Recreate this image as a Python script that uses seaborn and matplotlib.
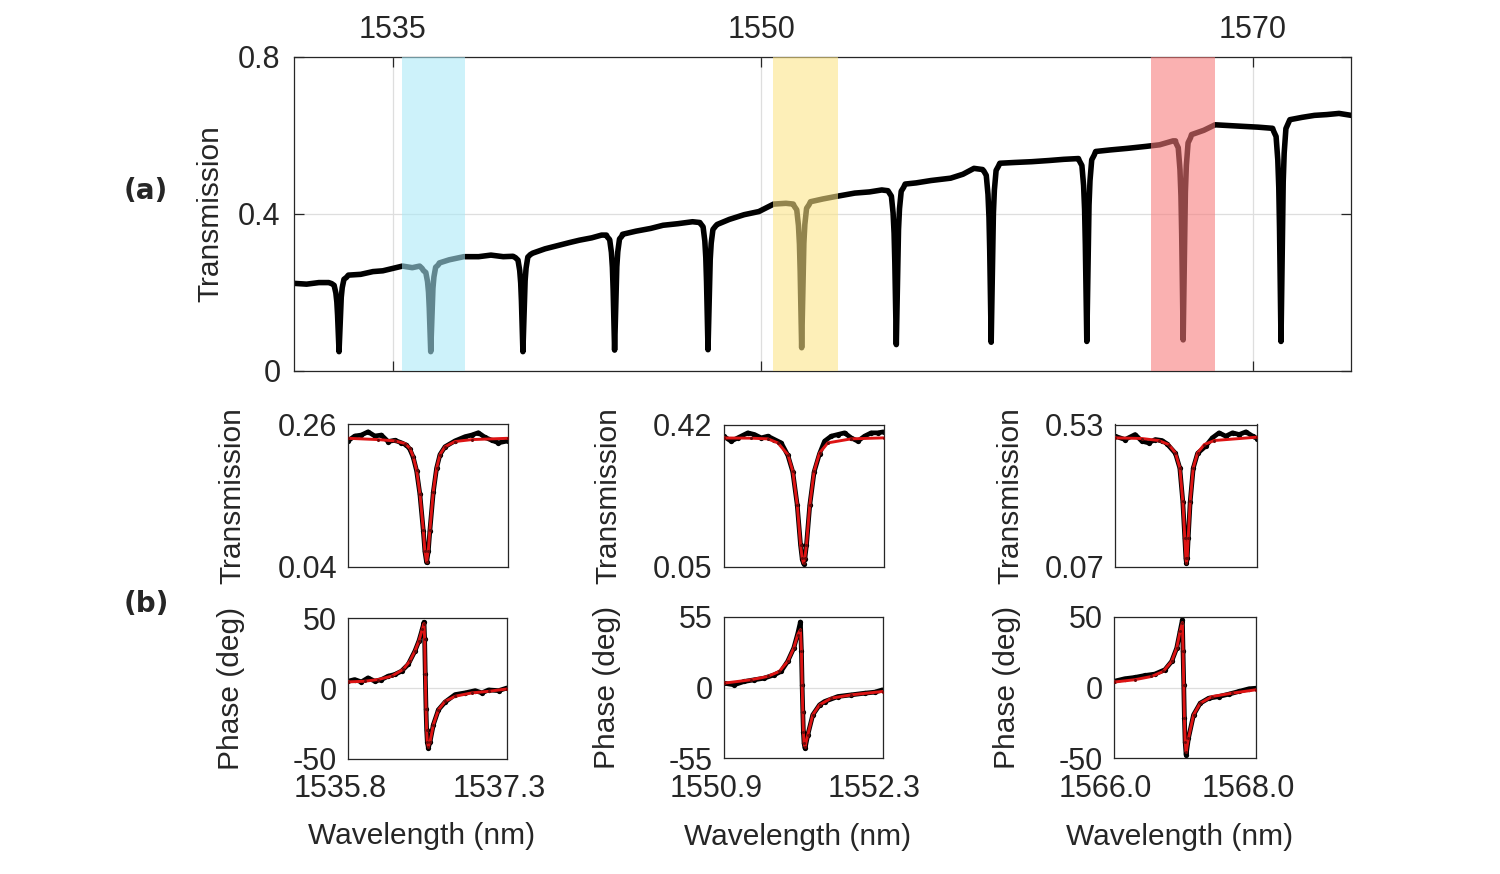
import numpy as np
import pandas as pd
import matplotlib
matplotlib.use("Agg")
import matplotlib.pyplot as plt
import matplotlib.transforms as mtransforms
import seaborn as sns

# ---------------- data: panel (a) broad transmission spectrum ----------------
base_wl = [1531.0, 1531.5, 1532.0, 1532.4,
           1533.2, 1533.7, 1534.2, 1534.6, 1535.0, 1535.4, 1535.8, 1536.1, 1536.2,
           1536.9, 1537.3, 1537.9, 1538.5, 1539.0, 1539.5, 1539.9,
           1540.7, 1541.2, 1541.7, 1542.2, 1542.6, 1543.1, 1543.5, 1543.7,
           1544.35, 1544.9, 1545.5, 1546.0, 1546.6, 1547.2, 1547.5,
           1548.2, 1548.7, 1549.3, 1549.9, 1550.5, 1551.0, 1551.3,
           1552.0, 1552.5, 1553.0, 1553.8, 1554.4, 1554.9, 1555.15,
           1555.85, 1556.3, 1556.9, 1557.7, 1558.2, 1558.65, 1559.0,
           1559.7, 1560.3, 1561.0, 1561.7, 1562.3, 1562.9,
           1563.6, 1564.2, 1564.9, 1565.65, 1566.2, 1566.75, 1566.85,
           1567.5, 1568.0, 1568.46, 1569.0, 1569.6, 1570.2, 1570.64, 1570.8,
           1571.5, 1572.0, 1572.5, 1573.0, 1573.5, 1574.0]
base_T = [0.222, 0.220, 0.224, 0.224,
          0.243, 0.245, 0.252, 0.254, 0.260, 0.266, 0.262, 0.266, 0.260,
          0.274, 0.282, 0.290, 0.290, 0.294, 0.290, 0.291,
          0.299, 0.310, 0.318, 0.326, 0.332, 0.338, 0.345, 0.345,
          0.347, 0.355, 0.362, 0.370, 0.374, 0.379, 0.377,
          0.372, 0.385, 0.397, 0.405, 0.424, 0.426, 0.424,
          0.430, 0.437, 0.443, 0.452, 0.455, 0.460, 0.458,
          0.475, 0.478, 0.484, 0.490, 0.500, 0.515, 0.512,
          0.528, 0.530, 0.532, 0.535, 0.538, 0.540,
          0.558, 0.562, 0.566, 0.571, 0.575, 0.585, 0.585,
          0.601, 0.612, 0.626, 0.624, 0.622, 0.620, 0.618, 0.617,
          0.639, 0.645, 0.650, 0.652, 0.655, 0.650]

dip_wl = [1532.82, 1536.55, 1540.30, 1544.03, 1547.83, 1551.64,
          1555.49, 1559.35, 1563.24, 1567.16, 1571.14]
dip_left = [0.224, 0.258, 0.291, 0.345, 0.379, 0.424, 0.460, 0.515, 0.541, 0.588, 0.618]
dip_right = [0.240, 0.272, 0.299, 0.347, 0.372, 0.428, 0.473, 0.528, 0.556, 0.601, 0.639]
dip_min = [0.048, 0.048, 0.048, 0.052, 0.053, 0.058, 0.066, 0.072, 0.074, 0.078, 0.074]

# resonance line profile: offset (nm) and fraction of dip depth
prof_off = [-0.30, -0.20, -0.13, -0.09, -0.06, -0.03, 0.0, 0.03, 0.06, 0.09, 0.13, 0.20, 0.30]
prof_frac = [0.015, 0.04, 0.15, 0.28, 0.47, 0.75, 1.0, 0.75, 0.47, 0.28, 0.15, 0.04, 0.015]

# highlighted bands
band_lo = [1535.38, 1550.48, 1565.84]
band_hi = [1537.95, 1553.12, 1568.46]
band_colors = ["#a9e9f7", "#fde586", "#f77a7a"]

# ---------------- data: panel (b) zoomed resonances ----------------
p1_fit_wl = [1535.800, 1536.083, 1536.240, 1536.335, 1536.382, 1536.413, 1536.445, 1536.476, 1536.508, 1536.523,
             1536.539, 1536.555, 1536.570, 1536.602, 1536.633, 1536.665, 1536.712, 1536.806, 1536.964, 1537.300]
p1_fit_T = [0.238, 0.236, 0.234, 0.230, 0.2225, 0.210, 0.189, 0.153, 0.097, 0.065,
            0.048, 0.065, 0.097, 0.156, 0.192, 0.213, 0.225, 0.233, 0.236, 0.238]
p1_dat_wl = [1535.800, 1535.863, 1535.926, 1535.989, 1536.052, 1536.114, 1536.177, 1536.240, 1536.303, 1536.350,
             1536.382, 1536.413, 1536.445, 1536.476, 1536.508, 1536.523, 1536.539, 1536.555, 1536.570, 1536.602,
             1536.633, 1536.665, 1536.712, 1536.806, 1536.901, 1536.964, 1537.026, 1537.089, 1537.152, 1537.215, 1537.300]
p1_dat_T = [0.234, 0.2415, 0.243, 0.248, 0.2415, 0.243, 0.233, 0.235, 0.231, 0.2276,
            0.221, 0.209, 0.188, 0.152, 0.096, 0.064, 0.047, 0.064, 0.096, 0.155,
            0.192, 0.213, 0.225, 0.234, 0.2405, 0.243, 0.2466, 0.2394, 0.235, 0.231, 0.234]
p1_fit_pwl = [1535.800, 1535.958, 1536.084, 1536.211, 1536.321, 1536.384, 1536.432, 1536.469, 1536.501, 1536.517,
              1536.523, 1536.529, 1536.536, 1536.542, 1536.548, 1536.558, 1536.574, 1536.605, 1536.653, 1536.716,
              1536.811, 1536.968, 1537.126, 1537.300]
p1_fit_ph = [4.5, 5.0, 6.2, 8.6, 13.4, 19.4, 26.6, 33.7, 42.1, 46.0,
             35.0, 10.0, -15.0, -30.0, -38.0, -41.6, -38.0, -26.0, -15.3, -9.3,
             -5.7, -3.3, -2.2, -0.5]
p1_dat_pwl = [1535.800, 1535.863, 1535.926, 1535.989, 1536.053, 1536.116, 1536.179, 1536.242, 1536.305, 1536.368,
              1536.432, 1536.469, 1536.501, 1536.517, 1536.523, 1536.529, 1536.536, 1536.542, 1536.548, 1536.558,
              1536.574, 1536.605, 1536.653, 1536.716, 1536.811, 1536.905, 1537.000, 1537.063, 1537.126, 1537.221, 1537.300]
p1_dat_ph = [5.0, 6.2, 4.5, 7.4, 5.0, 6.2, 8.6, 9.8, 12.2, 17.0,
             26.6, 33.7, 42.1, 47.0, 35.0, 10.0, -15.0, -30.0, -38.0, -42.5,
             -38.0, -26.0, -15.3, -9.8, -4.5, -3.3, -1.7, -3.3, -1.2, -1.7, 0.2]

p2_fit_wl = [1550.900, 1551.142, 1551.288, 1551.375, 1551.463, 1551.506, 1551.545, 1551.574, 1551.588, 1551.600,
             1551.612, 1551.626, 1551.655, 1551.693, 1551.740, 1551.813, 1552.017, 1552.300]
p2_fit_T = [0.385, 0.3845, 0.3827, 0.3723, 0.342, 0.2987, 0.212, 0.108, 0.0734, 0.0604,
            0.0734, 0.108, 0.212, 0.2987, 0.346, 0.3723, 0.3827, 0.3853]
p2_dat_wl = [1550.900, 1550.967, 1551.025, 1551.113, 1551.171, 1551.230, 1551.288, 1551.346, 1551.405,
             1551.463, 1551.506, 1551.545, 1551.574, 1551.588, 1551.600, 1551.612, 1551.626, 1551.655, 1551.693,
             1551.740, 1551.784, 1551.842, 1551.900, 1551.959, 1552.017, 1552.075, 1552.134, 1552.192, 1552.250, 1552.300]
p2_dat_T = [0.3897, 0.3767, 0.3853, 0.3983, 0.394, 0.3853, 0.3897, 0.381, 0.3723,
            0.340, 0.297, 0.211, 0.107, 0.072, 0.059, 0.072, 0.107, 0.211, 0.297,
            0.344, 0.3767, 0.3897, 0.394, 0.3983, 0.3853, 0.3767, 0.3897, 0.3983, 0.3983, 0.4009]
p2_fit_pwl = [1550.900, 1551.137, 1551.285, 1551.388, 1551.462, 1551.516, 1551.551, 1551.575, 1551.584, 1551.590,
              1551.596, 1551.601, 1551.607, 1551.616, 1551.640, 1551.684, 1551.744, 1551.847, 1552.025, 1552.300]
p2_fit_ph = [3.5, 6.1, 8.7, 12.6, 20.4, 30.8, 41.2, 45.1, 28.2, 2.2,
             -18.6, -34.2, -43.3, -45.9, -36.8, -21.2, -13.4, -8.2, -5.6, -3.0]
p2_dat_pwl = [1550.900, 1550.989, 1551.078, 1551.166, 1551.255, 1551.344, 1551.403, 1551.462, 1551.516, 1551.551,
              1551.575, 1551.584, 1551.590, 1551.596, 1551.601, 1551.607, 1551.616, 1551.640, 1551.684, 1551.744,
              1551.788, 1551.906, 1552.025, 1552.143, 1552.232, 1552.300]
p2_dat_ph = [3.5, 2.2, 4.8, 6.1, 7.4, 10.0, 12.6, 20.4, 30.8, 42.0,
             51.1, 28.2, 2.2, -18.6, -34.2, -43.3, -47.2, -36.8, -21.2, -13.4,
             -10.8, -6.9, -5.6, -4.3, -3.5, -1.7]

p3_fit_wl = [1566.000, 1566.378, 1566.615, 1566.756, 1566.851, 1566.913, 1566.955, 1566.983, 1566.998, 1567.007,
             1567.017, 1567.031, 1567.059, 1567.102, 1567.163, 1567.258, 1567.399, 1568.000]
p3_fit_T = [0.4869, 0.4848, 0.4783, 0.4654, 0.4384, 0.390, 0.2822, 0.1637, 0.0991, 0.0829,
            0.0991, 0.1637, 0.2822, 0.390, 0.4384, 0.4654, 0.4783, 0.4891]
p3_dat_wl = [1566.000, 1566.142, 1566.284, 1566.378, 1566.473, 1566.567, 1566.662, 1566.733, 1566.851, 1566.913,
             1566.955, 1566.983, 1566.998, 1567.007, 1567.017, 1567.031, 1567.059, 1567.102, 1567.163, 1567.277,
             1567.371, 1567.466, 1567.560, 1567.655, 1567.749, 1567.844, 1567.939, 1568.000]
p3_dat_T = [0.4923, 0.4815, 0.4977, 0.4761, 0.4707, 0.4815, 0.4783, 0.4675, 0.437, 0.389,
            0.281, 0.163, 0.098, 0.082, 0.098, 0.163, 0.281, 0.389, 0.437, 0.460,
            0.4869, 0.5031, 0.4923, 0.5031, 0.4977, 0.5063, 0.4923, 0.4848]
p3_fit_pwl = [1566.000, 1566.297, 1566.533, 1566.698, 1566.816, 1566.887, 1566.934, 1566.967, 1566.976, 1566.986,
              1566.995, 1567.005, 1567.019, 1567.052, 1567.123, 1567.217, 1567.382, 1567.665, 1568.000]
p3_fit_ph = [3.9, 5.6, 7.9, 11.5, 18.6, 28.0, 39.8, 46.0, 25.7, 2.0,
             -21.6, -38.2, -45.5, -35.8, -19.3, -11.0, -6.3, -3.9, -1.5]
p3_dat_pwl = [1566.000, 1566.156, 1566.297, 1566.439, 1566.580, 1566.722, 1566.816, 1566.887, 1566.934, 1566.967,
              1566.976, 1566.986, 1566.995, 1567.005, 1567.019, 1567.052, 1567.123, 1567.217, 1567.335, 1567.476,
              1567.618, 1567.759, 1567.901, 1568.000]
p3_dat_ph = [4.4, 6.3, 7.2, 8.6, 9.6, 12.7, 18.6, 28.0, 39.8, 48.1,
             25.7, 2.0, -21.6, -38.2, -47.6, -35.8, -19.3, -11.0, -7.5, -6.3,
             -4.6, -2.7, -0.8, -0.4]

sub_xlim = [(1535.8, 1537.3), (1550.9, 1552.3), (1566.0, 1568.0)]
sub_xticklabels = [("1535.8", "1537.3"), ("1550.9", "1552.3"), ("1566.0", "1568.0")]
sub_Tlim = [(0.04, 0.26), (0.05, 0.42), (0.07, 0.53)]
sub_Tticklabels = [("0.04", "0.26"), ("0.05", "0.42"), ("0.07", "0.53")]
sub_phlim = [(-50, 50), (-55, 55), (-50, 50)]
sub_phticklabels = [("-50", "0", "50"), ("-55", "0", "55"), ("-50", "0", "50")]

top_xticks = [1535, 1550, 1570]
top_yticks = [0, 0.4, 0.8]
top_yticklabels = ["0", "0.4", "0.8"]

# ---------------- styling ----------------
sns.set_theme(style="white")
plt.rcParams["font.family"] = ["Liberation Sans", "DejaVu Sans"]
TXT = "#262626"
GRID = "#dedede"
plt.rcParams.update({
    "axes.edgecolor": TXT, "axes.linewidth": 0.9, "text.color": TXT,
    "xtick.color": TXT, "ytick.color": TXT, "axes.labelcolor": TXT,
})
TICK_FS = 22
LABEL_FS = 21.5

W, H = 1500, 874
fig = plt.figure(figsize=(W / 100, H / 100), dpi=100)


def rect(l, t, r, b):
    return [l / W, 1 - b / H, (r - l) / W, (b - t) / H]


def style_axes(ax):
    for s in ax.spines.values():
        s.set_visible(True)
        s.set_color(TXT)
        s.set_linewidth(0.9)
    ax.grid(True, color=GRID, linewidth=0.9)
    ax.set_axisbelow(True)


# ---------------- panel (a) ----------------
ax = fig.add_axes(rect(294.3, 56.5, 1351.3, 370.5))
wl_pts = list(base_wl)
T_pts = list(base_T)
for c, bl, br, m in zip(dip_wl, dip_left, dip_right, dip_min):
    for o, f in zip(prof_off, prof_frac):
        b = bl if o < 0 else (br if o > 0 else 0.5 * (bl + br))
        wl_pts.append(c + o)
        T_pts.append(b - f * (b - m))
spec = pd.DataFrame({"wl": wl_pts, "T": T_pts}).sort_values("wl")
sns.lineplot(data=spec, x="wl", y="T", ax=ax, color="black", lw=4.0,
             estimator=None, sort=False, zorder=2)
for lo, hi, col in zip(band_lo, band_hi, band_colors):
    ax.axvspan(lo, hi, color=col, alpha=0.58, lw=0, zorder=3)
ax.set_xlim(1531, 1574)
ax.set_ylim(0, 0.8)
style_axes(ax)
ax.set_xticks(top_xticks)
ax.set_xticklabels([str(v) for v in top_xticks])
ax.set_yticks(top_yticks)
ax.set_yticklabels(top_yticklabels)
ax.tick_params(axis="x", which="both", direction="in", top=True, bottom=True,
               labeltop=True, labelbottom=False, length=7, width=0.9, labelsize=TICK_FS, pad=8)
ax.tick_params(axis="y", which="both", direction="in", left=True, right=True,
               labelleft=True, labelright=False, length=7, width=0.9, labelsize=TICK_FS, pad=10)
ax.set_xlabel("")
ax.set_ylabel("Transmission", fontsize=LABEL_FS)
ax.yaxis.set_label_coords(-0.066, 0.5)
fig.text(146 / W, 1 - 191 / H, "(a)", fontsize=20, fontweight="bold", ha="center", va="center",
         family="DejaVu Sans")
fig.text(146 / W, 1 - 604 / H, "(b)", fontsize=20, fontweight="bold", ha="center", va="center",
         family="DejaVu Sans")

# ---------------- panel (b) ----------------
trans_rects = [rect(348, 424, 507.5, 567), rect(723.5, 424.5, 883.5, 567), rect(1115, 424.5, 1257, 567)]
phase_rects = [rect(348, 618, 507, 758.5), rect(724, 617, 882.5, 758.3), rect(1113.5, 617, 1256, 758.3)]

trans_sets = [(p1_dat_wl, p1_dat_T, p1_fit_wl, p1_fit_T),
              (p2_dat_wl, p2_dat_T, p2_fit_wl, p2_fit_T),
              (p3_dat_wl, p3_dat_T, p3_fit_wl, p3_fit_T)]
phase_sets = [(p1_dat_pwl, p1_dat_ph, p1_fit_pwl, p1_fit_ph),
              (p2_dat_pwl, p2_dat_ph, p2_fit_pwl, p2_fit_ph),
              (p3_dat_pwl, p3_dat_ph, p3_fit_pwl, p3_fit_ph)]

RED = "#dd1414"
DARKRED = "#6e0a0a"
shift_left = mtransforms.ScaledTranslation(-8 / 100, 0, fig.dpi_scale_trans)


def draw_pair(ax, dwl, dval, fwl, fval):
    d = pd.DataFrame({"wl": dwl, "v": dval})
    f = pd.DataFrame({"wl": fwl, "v": fval})
    sns.lineplot(data=d, x="wl", y="v", ax=ax, color="black", lw=3.4, marker="o",
                 markersize=3.8, markeredgewidth=0, estimator=None, sort=False, zorder=2)
    sns.lineplot(data=f, x="wl", y="v", ax=ax, color=RED, lw=2.1, marker="o",
                 markersize=2.2, markerfacecolor=DARKRED, markeredgewidth=0,
                 estimator=None, sort=False, zorder=3)


for i in range(3):
    axT = fig.add_axes(trans_rects[i])
    draw_pair(axT, *trans_sets[i])
    axT.set_xlim(*sub_xlim[i])
    axT.set_ylim(*sub_Tlim[i])
    style_axes(axT)
    axT.set_xticks(list(sub_xlim[i]))
    axT.set_xticklabels([])
    axT.set_yticks(list(sub_Tlim[i]))
    axT.set_yticklabels(list(sub_Tticklabels[i]))
    axT.tick_params(axis="both", direction="in", length=0, labelsize=TICK_FS, pad=8)
    axT.set_xlabel("")
    axT.set_ylabel("Transmission", fontsize=LABEL_FS)
    axT.yaxis.set_label_coords(-0.635, 0.5)

    axP = fig.add_axes(phase_rects[i])
    draw_pair(axP, *phase_sets[i])
    axP.set_xlim(*sub_xlim[i])
    axP.set_ylim(*sub_phlim[i])
    style_axes(axP)
    axP.set_xticks(list(sub_xlim[i]))
    axP.set_xticklabels(list(sub_xticklabels[i]))
    lo, hi = sub_phlim[i]
    axP.set_yticks([lo, 0, hi])
    axP.set_yticklabels(list(sub_phticklabels[i]))
    axP.tick_params(axis="y", direction="in", length=0, labelsize=TICK_FS, pad=8)
    axP.tick_params(axis="x", direction="in", length=0, labelsize=TICK_FS, pad=11.5)
    for lab in axP.get_xticklabels():
        lab.set_transform(lab.get_transform() + shift_left)
    axP.set_xlabel("Wavelength (nm)", fontsize=LABEL_FS)
    axP.xaxis.set_label_coords(0.463, -0.455)
    axP.set_ylabel("Phase (deg)", fontsize=LABEL_FS)
    axP.yaxis.set_label_coords(-0.65, 0.5)

fig.savefig("out.png", dpi=100)
